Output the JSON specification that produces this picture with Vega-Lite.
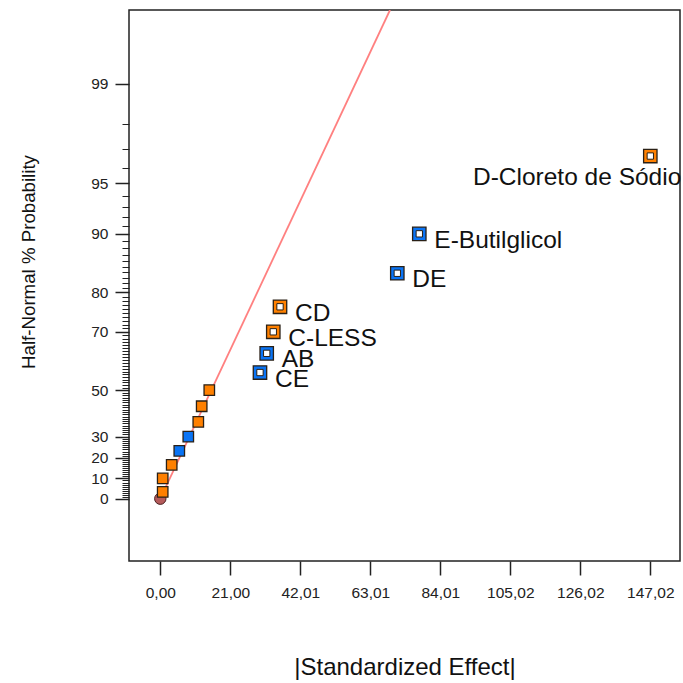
{
  "$schema": "https://vega.github.io/schema/vega-lite/v6.json",
  "width": 551,
  "height": 551,
  "autosize": {"type": "none"},
  "padding": {"left": 129, "top": 10, "right": 3, "bottom": 122},
  "background": "white",
  "config": {
    "view": {"stroke": "#222222", "strokeWidth": 1.5},
    "font": "Liberation Sans",
    "axis": {"grid": false}
  },
  "datasets": {
    "effects": [
      {"term": "", "x": 0, "z": 0, "sign": "Error", "kind": "circle"},
      {"term": "", "x": 0.72, "z": 0.0418, "sign": "Positive", "kind": "small"},
      {"term": "", "x": 0.72, "z": 0.1257, "sign": "Positive", "kind": "small"},
      {"term": "", "x": 3.42, "z": 0.2104, "sign": "Positive", "kind": "small"},
      {"term": "", "x": 5.70, "z": 0.2974, "sign": "Negative", "kind": "small"},
      {"term": "", "x": 8.40, "z": 0.3853, "sign": "Negative", "kind": "small"},
      {"term": "", "x": 11.40, "z": 0.4770, "sign": "Positive", "kind": "small"},
      {"term": "", "x": 12.42, "z": 0.5740, "sign": "Positive", "kind": "small"},
      {"term": "", "x": 14.70, "z": 0.6745, "sign": "Positive", "kind": "small"},
      {"term": "CE", "x": 29.91, "z": 0.7835, "sign": "Negative", "kind": "labeled"},
      {"term": "AB", "x": 31.93, "z": 0.9027, "sign": "Negative", "kind": "labeled"},
      {"term": "C-LESS", "x": 33.90, "z": 1.0364, "sign": "Positive", "kind": "labeled"},
      {"term": "CD", "x": 35.92, "z": 1.1918, "sign": "Positive", "kind": "labeled"},
      {"term": "DE", "x": 71.11, "z": 1.40, "sign": "Negative", "kind": "labeled"},
      {"term": "E-Butilglicol", "x": 77.71, "z": 1.6449, "sign": "Negative", "kind": "labeled"},
      {"term": "D-Cloreto de Sódio", "x": 147.02, "z": 2.128, "sign": "Positive", "kind": "labeled"}
    ],
    "fit": [
      {"x": 0, "z": 0},
      {"x": 68.92, "z": 3.035}
    ]
  },
  "encoding": {
    "x": {
      "field": "x",
      "type": "quantitative",
      "scale": {"domain": [-9.39, 155.93], "nice": false, "zero": false},
      "axis": {
        "values": [0, 21.0031, 42.0062, 63.0093, 84.0124, 105.0155, 126.0186, 147.0217],
        "labelExpr": "replace(format(datum.value, '.2f'), '.', ',')",
        "domain": false,
        "tickSize": 14,
        "tickWidth": 1.5,
        "tickColor": "#222222",
        "labelFontSize": 15.5,
        "labelColor": "#222222",
        "labelPadding": 10,
        "labelOverlap": false,
        "labelFlush": false,
        "title": "|Standardized Effect|",
        "titleFontSize": 24,
        "titleFontWeight": "normal",
        "titleColor": "#111111",
        "titleBaseline": "alphabetic",
        "titleY": 113
      }
    },
    "y": {
      "field": "z",
      "type": "quantitative",
      "scale": {"domain": [-0.387, 3.035], "nice": false, "zero": false},
      "axis": null
    }
  },
  "resolve": {"axis": {"y": "independent"}},
  "layer": [
    {
      "data": {"name": "fit"},
      "mark": {"type": "line", "color": "#ff8080", "strokeWidth": 1.8, "clip": true},
      "encoding": {
        "y": {
          "field": "z",
          "type": "quantitative",
          "scale": {"domain": [-0.387, 3.035], "nice": false, "zero": false},
          "axis": {
            "orient": "left",
            "values": [0, 0.12566, 0.25335, 0.38532, 0.67449, 1.03643, 1.28155, 1.64485, 1.95996, 2.57583],
            "labelExpr": "datum.value < 0.06 ? '0' : datum.value < 0.2 ? '10' : datum.value < 0.3 ? '20' : datum.value < 0.5 ? '30' : datum.value < 0.8 ? '50' : datum.value < 1.1 ? '70' : datum.value < 1.4 ? '80' : datum.value < 1.8 ? '90' : datum.value < 2.2 ? '95' : '99'",
            "domain": false,
            "tickSize": 14,
            "tickWidth": 1.5,
            "tickColor": "#222222",
            "labelFontSize": 15.5,
            "labelColor": "#222222",
            "labelPadding": 7,
            "labelOverlap": false,
            "labelFlush": false,
            "title": "Half-Normal % Probability",
            "titleFontSize": 18.7,
            "titleFontWeight": "normal",
            "titleColor": "#111111",
            "titleAngle": 270,
            "titleAlign": "center",
            "titleBaseline": "middle",
            "titleX": -101,
            "titleY": 251.5
          }
        }
      }
    },
    {
      "data": {"name": "effects"},
      "transform": [{"filter": "datum.kind === 'circle'"}],
      "mark": {"type": "point", "shape": "circle", "filled": true, "size": 130, "fill": "#b55b5b", "stroke": "#4a2020", "strokeWidth": 1, "opacity": 1},
      "encoding": {
        "y": {
          "field": "z",
          "type": "quantitative",
          "scale": {"domain": [-0.387, 3.035], "nice": false, "zero": false},
          "axis": {
            "orient": "left",
            "values": [0.01253, 0.02507, 0.0376, 0.05015, 0.06271, 0.07527, 0.08784, 0.10043, 0.11304, 0.1383, 0.15097, 0.16366, 0.17637, 0.18912, 0.20189, 0.2147, 0.22754, 0.24043, 0.26631, 0.27932, 0.29237, 0.30548, 0.31864, 0.33185, 0.34513, 0.35846, 0.37186, 0.39886, 0.41246, 0.42615, 0.43991, 0.45376, 0.4677, 0.48173, 0.49585, 0.51007, 0.5244, 0.53884, 0.55338, 0.56805, 0.58284, 0.59776, 0.61281, 0.62801, 0.64335, 0.65884, 0.69031, 0.7063, 0.72248, 0.73885, 0.75542, 0.77219, 0.78919, 0.80642, 0.82389, 0.84162, 0.85962, 0.8779, 0.89647, 0.91537, 0.93459, 0.95417, 0.97411, 0.99446, 1.01522, 1.05812, 1.08032, 1.10306, 1.12639, 1.15035, 1.17499, 1.20036, 1.22653, 1.25357, 1.31058, 1.34076, 1.3722, 1.40507, 1.43953, 1.47579, 1.5141, 1.55477, 1.59819, 1.6954, 1.75069, 1.81191, 1.88079, 2.05375, 2.17009, 2.32635],
            "labels": false,
            "domain": false,
            "tickSize": 7,
            "tickWidth": 1,
            "tickColor": "#222222",
            "title": null
          }
        }
      }
    },
    {
      "data": {"name": "effects"},
      "transform": [{"filter": "datum.kind === 'small'"}],
      "mark": {"type": "square", "size": 110, "stroke": "#2a2016", "strokeWidth": 1.3, "opacity": 1},
      "encoding": {
        "fill": {"field": "sign", "type": "nominal", "scale": {"domain": ["Positive", "Negative"], "range": ["#ff8000", "#0a74f5"]}, "legend": null}
      }
    },
    {
      "data": {"name": "effects"},
      "transform": [{"filter": "datum.kind === 'labeled'"}],
      "mark": {"type": "square", "size": 180, "stroke": "#2a2016", "strokeWidth": 1.3, "opacity": 1},
      "encoding": {
        "fill": {"field": "sign", "type": "nominal", "scale": {"domain": ["Positive", "Negative"], "range": ["#ff8000", "#0a74f5"]}, "legend": null}
      }
    },
    {
      "data": {"name": "effects"},
      "transform": [{"filter": "datum.kind === 'labeled'"}],
      "mark": {"type": "square", "size": 40, "fill": "white", "stroke": "#2a2016", "strokeWidth": 1, "opacity": 1}
    },
    {
      "data": {"name": "effects"},
      "transform": [{"filter": "datum.kind === 'labeled' && datum.x < 100"}],
      "mark": {"type": "text", "align": "left", "baseline": "alphabetic", "dx": 15, "dy": 14, "fontSize": 24.5, "color": "#111111"},
      "encoding": {"text": {"field": "term"}}
    },
    {
      "data": {"name": "effects"},
      "transform": [{"filter": "datum.kind === 'labeled' && datum.x >= 100"}],
      "mark": {"type": "text", "align": "right", "baseline": "alphabetic", "dx": 31, "dy": 29, "fontSize": 24.5, "color": "#111111"},
      "encoding": {"text": {"field": "term"}}
    }
  ]
}
